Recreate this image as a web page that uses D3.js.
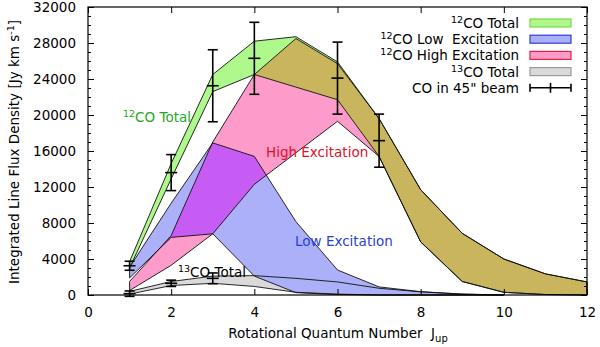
<!DOCTYPE html>
<html lang="en">
  <head>
    <meta charset="UTF-8" />
    <title>CO ladder</title>
    <script src="https://d3js.org/d3.v7.min.js"></script>
    <style>
      body { margin: 0; background: #fff; }
      text { font-family: "DejaVu Sans", sans-serif; font-size: 13.5px; }
    </style>
  </head>
  <body>
    <svg id="chart" width="600" height="347"></svg>
    <script>
      // J levels
      let J = [1, 2, 3, 4, 5, 6, 7, 8, 9, 10, 11, 12];

      // 12CO total band
      let totalLo = [3000, 12900, 22600, 24500, 23100, 21700, 15400, 5900, 1500, 300, 50, 0];
      let totalHi = [3700, 14600, 24500, 28200, 28700, 25900, 19600, 11700, 6850, 4000, 2350, 1450];

      // 12CO high excitation band
      let highLo = [500, 3300, 6800, 12300, 15800, 19300, 15400, 5900, 1500, 300, 50, 0];
      let highHi = [1500, 6600, 17000, 24500, 28500, 25700, 19600, 11700, 6850, 4000, 2350, 1450];

      // 12CO low excitation band
      let lowJ = [1, 2, 3, 4, 5, 6, 7, 8, 9, 10];
      let lowLo = [1900, 6400, 6800, 2100, 260, 50, 0, 0, 0, 0];
      let lowHi = [3100, 10200, 16900, 15400, 8150, 2780, 900, 370, 100, 0];

      // 13CO total band
      let c13J = [1, 2, 3, 4, 5, 6, 7, 8, 9, 10];
      let c13Lo = [100, 1050, 1300, 950, 300, 100, 0, 0, 0, 0];
      let c13Hi = [400, 1500, 2100, 2150, 1850, 1450, 750, 350, 100, 0];

      // CO in 45" beam (12CO and 13CO points)
      let obsJ = [1, 2, 3, 4, 6, 7, 1, 2, 3];
      let obsVal = [3250, 13600, 23250, 26300, 24100, 17150, 150, 1300, 1850];
      let obsErr = [500, 2000, 4000, 4000, 4000, 2950, 300, 350, 600];

      let xTicks = [0, 2, 4, 6, 8, 10, 12];
      let yTicks = [0, 4000, 8000, 12000, 16000, 20000, 24000, 28000, 32000];

      let pl = 88, pr = 587, pt = 7, pb = 295;
      let x = d3.scaleLinear().domain([0, 12]).range([pl, pr]);
      let y = d3.scaleLinear().domain([0, 32000]).range([pb, pt]);

      let svg = d3.select("#chart");

      function rows(js, lo, hi) {
        return js.map((j, i) => ({ j: j, lo: lo[i], hi: hi[i] }));
      }
      let area = d3.area()
        .x(d => x(d.j))
        .y0(d => y(d.lo))
        .y1(d => y(d.hi));

      let total = rows(J, totalLo, totalHi);
      let high = rows(J, highLo, highHi);
      let low = rows(lowJ, lowLo, lowHi);
      let c13 = rows(c13J, c13Lo, c13Hi);

      let defs = svg.append("defs");
      defs.append("clipPath").attr("id", "clipTotal")
        .append("path").attr("d", area(total));
      defs.append("clipPath").attr("id", "clipHigh")
        .append("path").attr("d", area(high));

      let bands = svg.append("g");
      bands.append("path").attr("d", area(c13)).attr("fill", "#dadada");
      bands.append("path").attr("d", area(low)).attr("fill", "#abb0f8");
      bands.append("path").attr("d", area(high)).attr("fill", "#fd9bcb");
      bands.append("path").attr("d", area(total)).attr("fill", "#aef88c");
      // overlaps
      bands.append("path").attr("d", area(high)).attr("fill", "#c8b55e")
        .attr("clip-path", "url(#clipTotal)");
      bands.append("path").attr("d", area(low)).attr("fill", "#c75cf5")
        .attr("clip-path", "url(#clipHigh)");

      // outlines
      [c13, low, high, total].forEach(d => {
        bands.append("path").attr("d", area(d))
          .attr("fill", "none").attr("stroke", "#111").attr("stroke-width", 0.9);
      });

      // frame
      svg.append("rect")
        .attr("x", pl).attr("y", pt)
        .attr("width", pr - pl).attr("height", pb - pt)
        .attr("fill", "none").attr("stroke", "#000").attr("stroke-width", 1.2);

      // axes
      let minorY = d3.range(0, 32001, 1000);
      svg.append("g").attr("transform", `translate(${pl},0)`)
        .call(d3.axisLeft(y).tickValues(minorY).tickSize(-3).tickFormat(""))
        .call(g => g.select(".domain").remove());
      svg.append("g").attr("transform", `translate(${pr},0)`)
        .call(d3.axisRight(y).tickValues(minorY).tickSize(-3).tickFormat(""))
        .call(g => g.select(".domain").remove());
      svg.append("g").attr("transform", `translate(${pl},0)`)
        .call(d3.axisLeft(y).tickValues(yTicks).tickSizeInner(-6).tickPadding(12).tickFormat(d3.format("d")))
        .call(g => g.select(".domain").remove())
        .call(g => g.selectAll("text").attr("font-size", 13.5).attr("font-family", "DejaVu Sans").attr("fill", "#000"));
      svg.append("g").attr("transform", `translate(${pr},0)`)
        .call(d3.axisRight(y).tickValues(yTicks).tickSizeInner(-6).tickFormat(""))
        .call(g => g.select(".domain").remove());
      svg.append("g").attr("transform", `translate(0,${pb})`)
        .call(d3.axisBottom(x).tickValues(xTicks).tickSizeInner(-6).tickPadding(12))
        .call(g => g.select(".domain").remove())
        .call(g => g.selectAll("text").attr("font-size", 13.5).attr("font-family", "DejaVu Sans").attr("fill", "#000"));
      svg.append("g").attr("transform", `translate(0,${pt})`)
        .call(d3.axisTop(x).tickValues(xTicks).tickSizeInner(-6).tickFormat(""))
        .call(g => g.select(".domain").remove());
      svg.selectAll(".tick line").attr("stroke", "#000").attr("stroke-width", 1);

      // error bars
      let eb = svg.append("g").attr("stroke", "#000").attr("stroke-width", 1.6);
      obsJ.forEach((j, i) => {
        let cx = x(j), y0 = y(obsVal[i] - obsErr[i]), y1 = y(obsVal[i] + obsErr[i]), cy = y(obsVal[i]);
        eb.append("line").attr("x1", cx).attr("x2", cx).attr("y1", y0).attr("y2", y1);
        eb.append("line").attr("x1", cx - 5).attr("x2", cx + 5).attr("y1", y0).attr("y2", y0);
        eb.append("line").attr("x1", cx - 5).attr("x2", cx + 5).attr("y1", y1).attr("y2", y1);
        eb.append("line").attr("x1", cx - 6).attr("x2", cx + 6).attr("y1", cy).attr("y2", cy);
      });

      // in-plot labels
      function supLabel(g, sup, rest, color) {
        let t = g.append("text").attr("fill", color).style("white-space", "pre");
        t.append("tspan").attr("font-size", 9.5).attr("dy", -5).text(sup);
        t.append("tspan").attr("dy", 5).text(rest);
        return t;
      }
      supLabel(svg, "12", "CO Total", "#22aa22").attr("x", 123).attr("y", 122);
      supLabel(svg, "13", "CO Total", "#000").attr("x", 178).attr("y", 277);
      svg.append("text").attr("x", 266).attr("y", 157).attr("fill", "#e0102a").text("High Excitation");
      svg.append("text").attr("x", 295).attr("y", 246).attr("fill", "#2a3fd6").text("Low Excitation");

      // legend
      let legItems = [
        { sup: "12", text: "CO Total", fill: "#aef88c", stroke: "#7ad84a" },
        { sup: "12", text: "CO Low  Excitation", fill: "#abb0f8", stroke: "#2a3fe0" },
        { sup: "12", text: "CO High Excitation", fill: "#fd9bcb", stroke: "#e82040" },
        { sup: "13", text: "CO Total", fill: "#dadada", stroke: "#999" },
        { sup: "", text: "CO in 45\" beam", fill: null, stroke: "#000" }
      ];
      let leg = svg.append("g");
      legItems.forEach((d, i) => {
        let cy = 23 + i * 16.2;
        let t = leg.append("text").attr("x", 519).attr("y", cy + 5)
          .attr("text-anchor", "end").style("white-space", "pre");
        if (d.sup) {
          t.append("tspan").attr("font-size", 9.5).attr("dy", -5).text(d.sup);
          t.append("tspan").attr("dy", 5).text(d.text);
        } else {
          t.text(d.text);
        }
        if (d.fill) {
          leg.append("rect").attr("x", 530).attr("y", cy - 4).attr("width", 41).attr("height", 8)
            .attr("fill", d.fill).attr("stroke", d.stroke).attr("stroke-width", 1.2);
        } else {
          let g = leg.append("g").attr("stroke", "#000").attr("stroke-width", 1.6);
          g.append("line").attr("x1", 530).attr("x2", 571).attr("y1", cy).attr("y2", cy);
          g.append("line").attr("x1", 530).attr("x2", 530).attr("y1", cy - 4).attr("y2", cy + 4);
          g.append("line").attr("x1", 571).attr("x2", 571).attr("y1", cy - 4).attr("y2", cy + 4);
          g.append("line").attr("x1", 550.5).attr("x2", 550.5).attr("y1", cy - 5).attr("y2", cy + 5);
        }
      });

      // axis titles
      let xt = svg.append("text").attr("x", 338).attr("y", 338).attr("text-anchor", "middle")
        .style("white-space", "pre");
      xt.append("tspan").text("Rotational Quantum Number  J");
      xt.append("tspan").attr("font-size", 10).attr("dy", 4).text("up");

      let yt = svg.append("text").attr("transform", "translate(19,152) rotate(-90)")
        .attr("text-anchor", "middle");
      yt.append("tspan").text("Integrated Line Flux Density [Jy km s");
      yt.append("tspan").attr("font-size", 9.5).attr("dy", -5).text("-1");
      yt.append("tspan").attr("dy", 5).text("]");
    </script>
  </body>
</html>
